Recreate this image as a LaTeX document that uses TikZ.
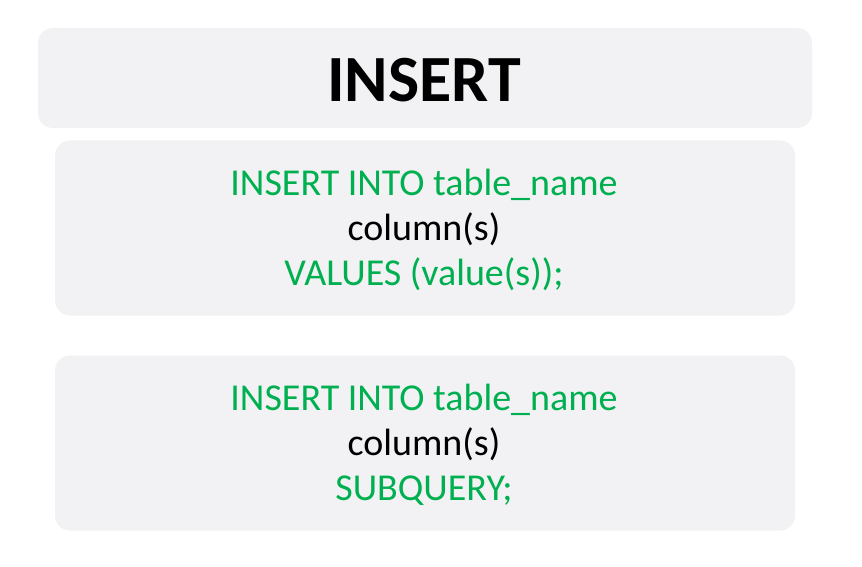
\documentclass[tikz,border=0pt]{standalone}
\usepackage{fontspec}
\setmainfont{Carlito}
\usepackage{tikz}
\definecolor{sqlgreen}{RGB}{0,176,80}
\definecolor{panel}{RGB}{242,242,244}
\tikzset{panelbox/.style={fill=panel,rounded corners=15pt,inner sep=0pt},
  sqlline/.style={align=center,font=\fontsize{38}{45}\selectfont}}

\begin{document}
\begin{tikzpicture}[x=1pt,y=-1pt]
\useasboundingbox (0,0) rectangle (862,567);
\fill[white] (0,0) rectangle (862,567);
\node [panelbox,minimum width=774pt,minimum height=100pt] (head) at (425,78) {};
\node [panelbox,minimum width=740pt,minimum height=175pt] (form1) at (425,228) {};
\node [panelbox,minimum width=740pt,minimum height=175pt] (form2) at (425,443) {};
\node [font=\fontsize{66}{70}\selectfont\bfseries] (title) at (424,80) {INSERT};
\node [sqlline] (code1) at (424,230) {\textcolor{sqlgreen}{INSERT INTO table\_name}\\ column(s)\\ \textcolor{sqlgreen}{VALUES (value(s));}};
\node [sqlline] (code2) at (424,445) {\textcolor{sqlgreen}{INSERT INTO table\_name}\\ column(s)\\ \textcolor{sqlgreen}{SUBQUERY;}};
\end{tikzpicture}
\end{document}
